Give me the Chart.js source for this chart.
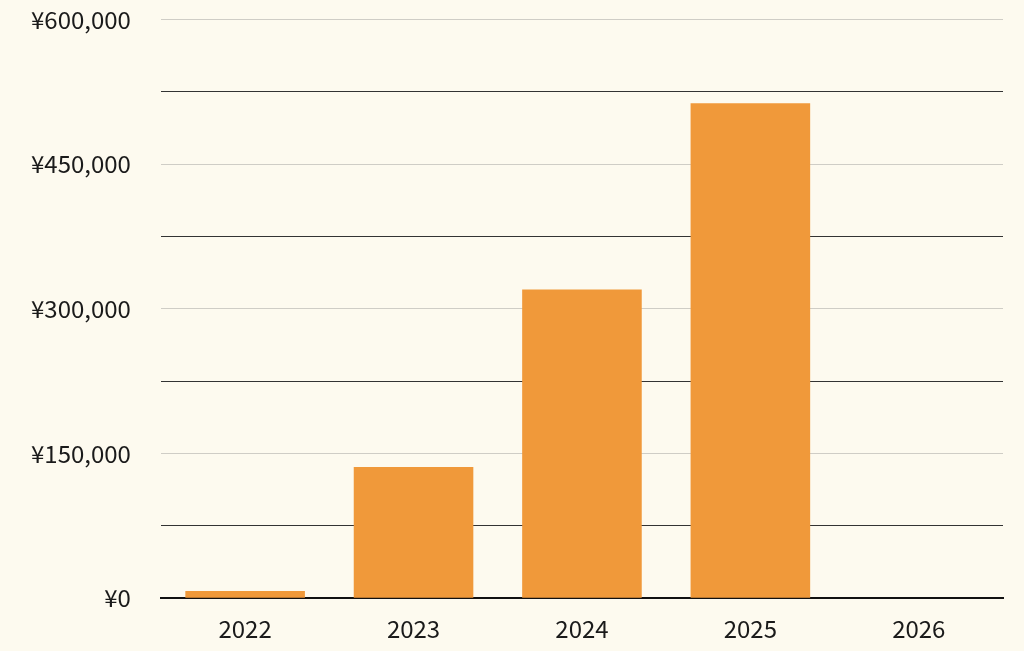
<!DOCTYPE html>
<html>
<head>
<meta charset="utf-8">
<script src="https://cdn.jsdelivr.net/npm/chart.js@4/dist/chart.umd.min.js"></script>
<style>
  html, body { margin: 0; padding: 0; background: #fdfaef; overflow: hidden; }
  #wrap { width: 1024px; height: 651px; position: relative; overflow: hidden; }
  #inner { position: absolute; left: 0; top: -25px; width: 1024px; height: 676px; }
</style>
</head>
<body>
<div id="wrap"><div id="inner"><canvas id="c"></canvas></div></div>
<script>
const categories = ['2022', '2023', '2024', '2025', '2026'];
const revenue = [7500, 136000, 320000, 513000, null];
const yMax = 600000;
const yStep = 75000;
const labelStep = 150000;

Chart.defaults.font.family = "'Noto Sans CJK JP', 'Noto Sans', sans-serif";

new Chart(document.getElementById('c'), {
  type: 'bar',
  data: {
    labels: categories,
    datasets: [{
      data: revenue,
      backgroundColor: '#f0993a',
      borderWidth: 0,
      barPercentage: 0.71,
      categoryPercentage: 1.0
    }]
  },
  options: {
    responsive: true,
    maintainAspectRatio: false,
    animation: false,
    layout: { padding: { top: 0, right: 21, left: 1, bottom: 0 } },
    plugins: { legend: { display: false }, tooltip: { enabled: false } },
    scales: {
      x: {
        grid: { display: false },
        border: { color: '#111111', width: 2 },
        ticks: { color: '#1a1a1a', font: { size: 24 }, padding: 8 }
      },
      y: {
        min: 0,
        max: yMax,
        border: { display: false },
        grid: {
          drawTicks: false,
          lineWidth: 1,
          color: (ctx) => {
            const v = ctx.tick ? ctx.tick.value : 0;
            if (v === 0) return 'rgba(0,0,0,0)';
            return (v % labelStep === 0) ? '#cfcdc6' : '#333333';
          }
        },
        ticks: {
          stepSize: yStep,
          color: '#1a1a1a',
          font: { size: 24 },
          padding: 30,
          callback: (v) => (v % labelStep === 0) ? '¥' + v.toLocaleString('en-US') : ''
        }
      }
    }
  }
});
</script>
</body>
</html>
